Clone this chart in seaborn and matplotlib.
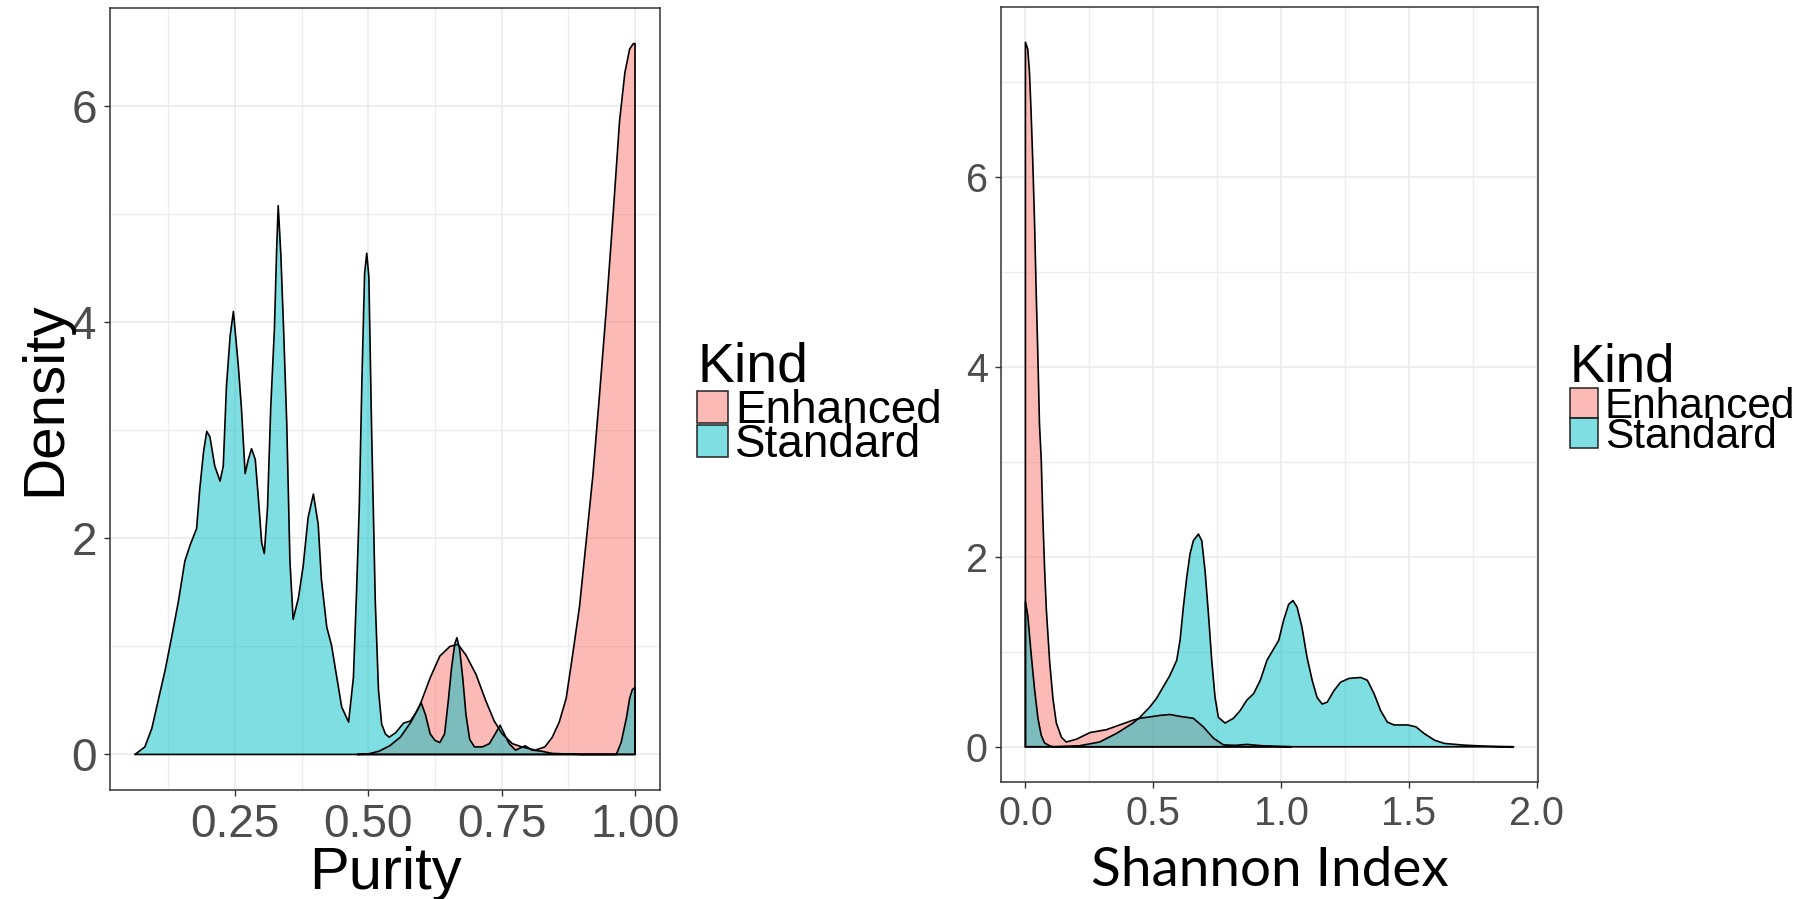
import matplotlib
matplotlib.use('Agg')
import matplotlib.pyplot as plt
import pandas as pd
import seaborn as sns
from matplotlib.colors import to_rgba
from matplotlib.patches import Rectangle
from matplotlib.ticker import FixedLocator, FormatStrFormatter

kinds = ['Enhanced', 'Standard']
kind_colors = {'Enhanced': '#F8766D', 'Standard': '#00BFC4'}

# Purity density curves
purity_std_x = [0.0625, 0.081, 0.094, 0.106, 0.119, 0.131, 0.144, 0.156, 0.166, 0.178,
                0.184, 0.191, 0.197, 0.203, 0.212, 0.222, 0.228, 0.234, 0.241, 0.247,
                0.256, 0.262, 0.269, 0.275, 0.281, 0.288, 0.294, 0.300, 0.305, 0.311,
                0.317, 0.324, 0.328, 0.331, 0.336, 0.341, 0.347, 0.353, 0.359, 0.369,
                0.378, 0.387, 0.397, 0.406, 0.412, 0.422, 0.431, 0.441, 0.450, 0.463,
                0.472, 0.478, 0.483, 0.488, 0.493, 0.497, 0.501, 0.506, 0.513, 0.519,
                0.525, 0.532, 0.539, 0.551, 0.566, 0.579, 0.591, 0.599, 0.607, 0.616,
                0.625, 0.634, 0.643, 0.650, 0.656, 0.662, 0.666, 0.671, 0.677, 0.683,
                0.690, 0.699, 0.714, 0.727, 0.739, 0.747, 0.754, 0.764, 0.776, 0.794,
                0.807, 0.825, 0.844, 0.868, 0.900, 0.940, 0.965, 0.974, 0.984, 0.990,
                0.995, 1.0, 1.0]
purity_std_y = [0.0, 0.07, 0.24, 0.50, 0.78, 1.08, 1.42, 1.79, 1.94, 2.09,
                2.46, 2.80, 2.99, 2.94, 2.67, 2.53, 2.67, 3.41, 3.88, 4.10,
                3.61, 3.21, 2.60, 2.73, 2.83, 2.73, 2.36, 1.96, 1.86, 2.29,
                3.21, 3.95, 4.66, 5.08, 4.62, 3.95, 3.07, 1.79, 1.25, 1.45,
                1.75, 2.19, 2.41, 2.13, 1.62, 1.18, 1.01, 0.71, 0.44, 0.30,
                0.71, 1.52, 2.29, 3.47, 4.45, 4.64, 4.42, 3.04, 1.42, 0.60,
                0.28, 0.19, 0.16, 0.20, 0.29, 0.31, 0.40, 0.48, 0.37, 0.19,
                0.13, 0.11, 0.19, 0.50, 0.80, 1.02, 1.08, 0.98, 0.71, 0.37,
                0.14, 0.07, 0.07, 0.10, 0.20, 0.27, 0.20, 0.10, 0.04, 0.08,
                0.04, 0.03, 0.01, 0.005, 0.0, 0.0, 0.0, 0.11, 0.34, 0.52,
                0.60, 0.62, 0.0]
purity_enh_x = [0.48, 0.50, 0.52, 0.54, 0.56, 0.58, 0.597, 0.616, 0.634, 0.653,
                0.668, 0.683, 0.702, 0.720, 0.736, 0.751, 0.770, 0.788, 0.813, 0.831,
                0.845, 0.858, 0.871, 0.883, 0.896, 0.908, 0.921, 0.933, 0.946, 0.959,
                0.971, 0.981, 0.990, 0.997, 1.0, 1.0]
purity_enh_y = [0.0, 0.005, 0.03, 0.08, 0.16, 0.30, 0.46, 0.71, 0.91, 1.00,
                1.02, 0.92, 0.74, 0.50, 0.31, 0.19, 0.10, 0.07, 0.04, 0.07,
                0.16, 0.30, 0.52, 0.92, 1.37, 1.95, 2.58, 3.30, 4.11, 5.00,
                5.86, 6.31, 6.53, 6.58, 6.58, 0.0]

# Shannon index density curves
shannon_std_x = [0.0, 0.0, 0.009, 0.022, 0.036, 0.049, 0.062, 0.075, 0.095, 0.107,
                 0.21, 0.29, 0.356, 0.421, 0.448, 0.487, 0.513, 0.539, 0.565, 0.592,
                 0.605, 0.618, 0.631, 0.644, 0.657, 0.677, 0.690, 0.703, 0.716, 0.729,
                 0.742, 0.755, 0.781, 0.814, 0.840, 0.866, 0.893, 0.919, 0.945, 0.971,
                 0.991, 1.010, 1.030, 1.047, 1.063, 1.082, 1.102, 1.122, 1.141, 1.161,
                 1.181, 1.207, 1.233, 1.266, 1.312, 1.338, 1.364, 1.390, 1.416, 1.442,
                 1.495, 1.528, 1.560, 1.600, 1.639, 1.717, 1.796, 1.85, 1.91]
shannon_std_y = [0.0, 1.53, 1.39, 0.99, 0.60, 0.30, 0.12, 0.04, 0.01, 0.0,
                 0.01, 0.05, 0.14, 0.25, 0.31, 0.42, 0.51, 0.63, 0.75, 0.91,
                 1.12, 1.47, 1.78, 2.03, 2.17, 2.24, 2.17, 1.85, 1.40, 0.91,
                 0.52, 0.31, 0.25, 0.30, 0.38, 0.49, 0.56, 0.70, 0.91, 1.03,
                 1.12, 1.33, 1.50, 1.54, 1.47, 1.26, 0.94, 0.70, 0.52, 0.45,
                 0.47, 0.59, 0.68, 0.72, 0.73, 0.70, 0.56, 0.38, 0.26, 0.23,
                 0.23, 0.21, 0.14, 0.07, 0.035, 0.017, 0.007, 0.003, 0.0]
shannon_enh_x = [0.0, 0.0, 0.009, 0.016, 0.022, 0.029, 0.036, 0.042, 0.049, 0.055,
                 0.062, 0.068, 0.075, 0.082, 0.095, 0.108, 0.121, 0.141, 0.16, 0.2,
                 0.253, 0.317, 0.369, 0.421, 0.448, 0.474, 0.526, 0.565, 0.605, 0.657,
                 0.696, 0.736, 0.775, 0.82, 0.866, 0.93, 1.04]
shannon_enh_y = [0.0, 7.42, 7.35, 7.10, 6.70, 6.15, 5.50, 4.81, 4.09, 3.40,
                 3.02, 2.43, 1.88, 1.44, 0.89, 0.50, 0.25, 0.10, 0.05, 0.08,
                 0.15, 0.18, 0.23, 0.28, 0.30, 0.31, 0.33, 0.34, 0.32, 0.30,
                 0.21, 0.09, 0.02, 0.015, 0.025, 0.01, 0.0]


def curves(enh_x, enh_y, std_x, std_y):
    a = pd.DataFrame({'x': enh_x, 'y': enh_y, 'Kind': 'Enhanced'})
    b = pd.DataFrame({'x': std_x, 'y': std_y, 'Kind': 'Standard'})
    return pd.concat([a, b], ignore_index=True)


purity = curves(purity_enh_x, purity_enh_y, purity_std_x, purity_std_y)
shannon = curves(shannon_enh_x, shannon_enh_y, shannon_std_x, shannon_std_y)

sns.set_theme(style='whitegrid')
plt.rcParams['font.family'] = ['Liberation Sans', 'DejaVu Sans']

W, H = 1816, 899
fig = plt.figure(figsize=(W / 100, H / 100), dpi=100)
ax1 = fig.add_axes([110 / W, 1 - 790 / H, 550 / W, 782 / H])
ax2 = fig.add_axes([1001 / W, 1 - 782 / H, 537 / W, 775 / H])


def draw_density(ax, df):
    for kind in kinds:
        d = df[df.Kind == kind]
        ax.fill_between(d.x, d.y, 0, color=kind_colors[kind], alpha=0.5, lw=0, zorder=2)
        d = pd.concat([d, d.iloc[:1]])  # close the polygon along the baseline
        sns.lineplot(data=d, x='x', y='y', ax=ax, color='black', lw=1.2,
                     sort=False, estimator=None, zorder=3)
    # ggplot-like 5% expansion
    xmin, xmax = df.x.min(), df.x.max()
    ymax = df.y.max()
    ax.set_xlim(xmin - 0.05 * (xmax - xmin), xmax + 0.05 * (xmax - xmin))
    ax.set_ylim(-0.05 * ymax, 1.05 * ymax)


def style_axes(ax, xmaj, xmin_, ymaj, ymin_, xfmt, size):
    ax.xaxis.set_major_locator(FixedLocator(xmaj))
    ax.xaxis.set_minor_locator(FixedLocator(xmin_))
    ax.yaxis.set_major_locator(FixedLocator(ymaj))
    ax.yaxis.set_minor_locator(FixedLocator(ymin_))
    ax.xaxis.set_major_formatter(FormatStrFormatter(xfmt))
    ax.yaxis.set_major_formatter(FormatStrFormatter('%d'))
    ax.grid(which='major', color='#EBEBEB', lw=1.2)
    ax.grid(which='minor', color='#EDEDED', lw=1.0)
    ax.set_axisbelow(True)
    ax.set_facecolor('white')
    for s in ax.spines.values():
        s.set_visible(True)
        s.set_color('#333333')
        s.set_linewidth(1.1)
    ax.tick_params(which='major', bottom=True, left=True, length=4, width=1,
                   color='#333333', labelcolor='#4D4D4D', labelsize=size, pad=5.5)
    ax.tick_params(which='minor', length=0)


draw_density(ax1, purity)
draw_density(ax2, shannon)

style_axes(ax1, [0.25, 0.5, 0.75, 1.0], [0.125, 0.375, 0.625, 0.875],
           [0, 2, 4, 6], [1, 3, 5], '%.2f', 33)
style_axes(ax2, [0.0, 0.5, 1.0, 1.5, 2.0], [0.25, 0.75, 1.25, 1.75],
           [0, 2, 4, 6], [1, 3, 5, 7], '%.1f', 28.5)

ax1.set_xlabel('Purity', fontsize=43, color='black')
ax1.xaxis.set_label_coords(0.5, -0.0716)
ax1.set_ylabel('Density', fontsize=42, color='black')
ax1.yaxis.set_label_coords(-0.069, 0.5)
ax2.set_xlabel('Shannon Index', fontsize=39.5, color='black', family=['Lato', 'DejaVu Sans'])
ax2.xaxis.set_label_coords(0.5, -0.083)
ax2.set_ylabel('')


def px(x, y):
    return x / W, 1 - y / H


def legend_block(x0, title_base, title_size, key_w, key_tops, key_h, label_x, label_size):
    fig.text(*px(x0, title_base), 'Kind', fontsize=title_size, color='black', va='baseline')
    for kind, top, h in zip(kinds, key_tops, key_h):
        fig.add_artist(Rectangle(px(x0, top + h), key_w / W, h / H, transform=fig.transFigure,
                                 facecolor=to_rgba(kind_colors[kind], 0.5),
                                 edgecolor='#222222', lw=1.1))
        fig.text(*px(label_x, top + h), kind, fontsize=label_size, color='black', va='baseline')


legend_block(697, 382, 40, 31, [391, 425], [32, 32], 735, 33)
legend_block(1570, 382, 38, 28, [388, 418], [30, 30], 1605, 30.5)

fig.savefig('out.png', dpi=100, facecolor='white')
